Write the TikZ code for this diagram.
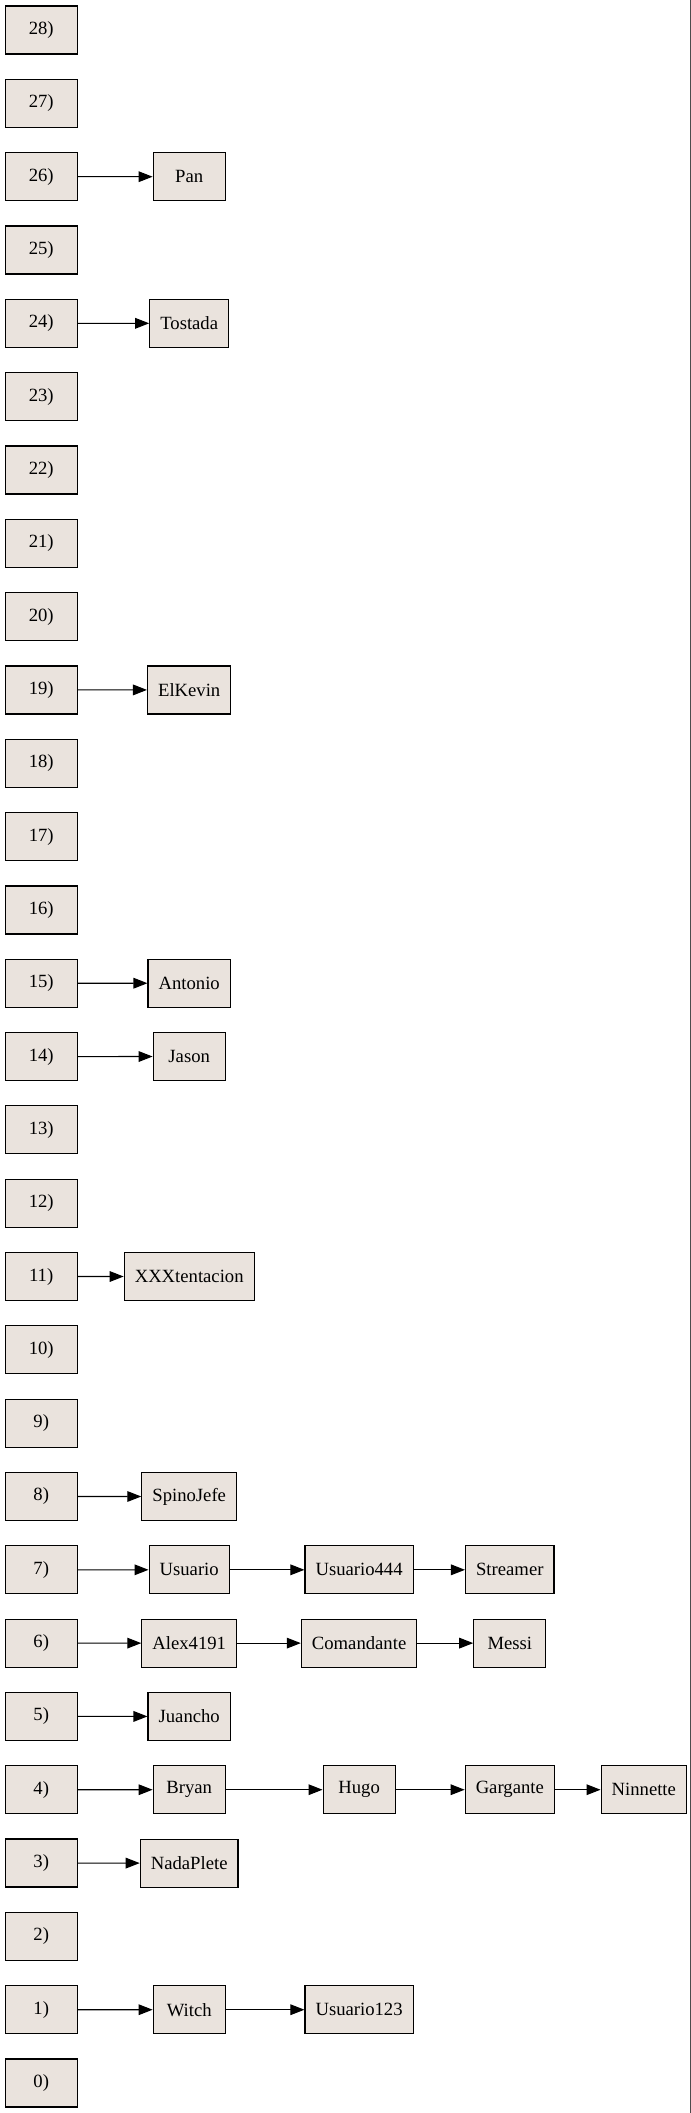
\documentclass[tikz,border=0pt]{standalone}
\usepackage{fontspec}
\setmainfont{Liberation Serif}
\usepackage{xcolor}
\usetikzlibrary{arrows.meta}
\definecolor{boxfill}{RGB}{234,227,221}

\begin{document}
\begin{tikzpicture}[x=0.75pt,y=-0.75pt,
    cell/.style={draw,rectangle,fill=boxfill,line width=0.9pt,minimum width=54pt,minimum height=36pt,inner xsep=7.9pt,font=\fontsize{14}{16}\selectfont},
    link/.style={-{Triangle[length=10.5pt,width=8pt]},line width=0.8pt}]
      \useasboundingbox (0,0) rectangle (691,2113);
      % index column
      \foreach \i in {0,...,28}
        \node[cell] (i\i) at (41.2, {30.06+(28-\i)*73.32}) {\i)};
      % first entries
      \node[cell] (pan) at (189.2, 176.7) {Pan};
      \node[cell] (tostada) at (189.2, 323.3) {Tostada};
      \node[cell] (elkevin) at (189.2, 689.9) {ElKevin};
      \node[cell] (antonio) at (189.2, 983.2) {Antonio};
      \node[cell] (jason) at (189.2, 1056.5) {Jason};
      \node[cell] (xxx) at (189.2, 1276.5) {XXXtentacion};
      \node[cell] (spino) at (189.2, 1496.5) {SpinoJefe};
      \node[cell] (usuario) at (189.2, 1569.8) {Usuario};
      \node[cell] (alex) at (189.2, 1643.1) {Alex4191};
      \node[cell] (juancho) at (189.2, 1716.4) {Juancho};
      \node[cell] (bryan) at (189.2, 1789.7) {Bryan};
      \node[cell] (nada) at (189.2, 1863.1) {NadaPlete};
      \node[cell] (witch) at (189.2, 2009.7) {Witch};
      % further entries
      \node[cell] (usuario444) at (359.1, 1569.8) {Usuario444};
      \node[cell] (comandante) at (359.1, 1643.1) {Comandante};
      \node[cell] (hugo) at (359.1, 1789.7) {Hugo};
      \node[cell] (usuario123) at (359.1, 2009.7) {Usuario123};
      \node[cell] (streamer) at (509.8, 1569.8) {Streamer};
      \node[cell] (messi) at (509.8, 1643.1) {Messi};
      \node[cell] (gargante) at (509.8, 1789.7) {Gargante};
      \node[cell] (ninnette) at (643.8, 1789.7) {Ninnette};
      \draw[link] (i26) to (pan);
      \draw[link] (i24) to (tostada);
      \draw[link] (i19) to (elkevin);
      \draw[link] (i15) to (antonio);
      \draw[link] (i14) to (jason);
      \draw[link] (i11) to (xxx);
      \draw[link] (i8) to (spino);
      \draw[link] (i7) to (usuario);
      \draw[link] (usuario) to (usuario444);
      \draw[link] (usuario444) to (streamer);
      \draw[link] (i6) to (alex);
      \draw[link] (alex) to (comandante);
      \draw[link] (comandante) to (messi);
      \draw[link] (i5) to (juancho);
      \draw[link] (i4) to (bryan);
      \draw[link] (bryan) to (hugo);
      \draw[link] (hugo) to (gargante);
      \draw[link] (gargante) to (ninnette);
      \draw[link] (i3) to (nada);
      \draw[link] (i1) to (witch);
      \draw[link] (witch) to (usuario123);
      % right edge
      \draw[gray!60!black,line width=1pt] (690.3,0) -- (690.3,2113);
    \end{tikzpicture}
\end{document}
